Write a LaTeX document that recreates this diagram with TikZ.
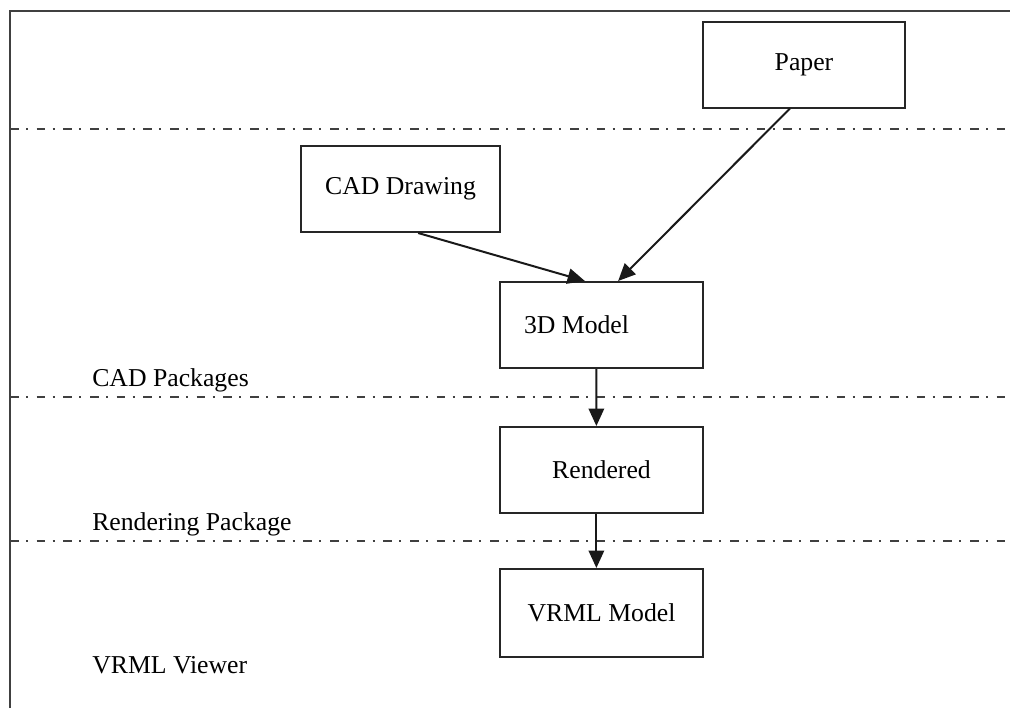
\documentclass[tikz,border=0pt]{standalone}
\usepackage{fontspec}
\setmainfont{Liberation Serif}
\usetikzlibrary{arrows.meta,calc}
\begin{document}
\begin{tikzpicture}[x=0.75pt,y=-0.75pt,
  box/.style={draw=black!85,line width=1.5pt,rectangle,inner sep=0pt,minimum width=152pt,minimum height=64.5pt,font=\fontsize{19.3}{22}\selectfont},
  lbl/.style={inner sep=0pt,anchor=base west,font=\fontsize{19.3}{22}\selectfont},
  flow/.style={line width=1.5pt,draw=black!90,-{Triangle[length=13pt,width=11.5pt]}},
  lane/.style={line width=1.7pt,draw=black!75,dash pattern=on 6.5pt off 5.5pt on 1.5pt off 6.5pt},
  frame/.style={line width=2pt,draw=black!75}]
\useasboundingbox (0,0) rectangle (1010,708);
% frame
\coordinate (fa) at (10,708);
\coordinate (fb) at (10,11);
\coordinate (fc) at (1012,11);
\draw[frame] (fa) -- (fb) -- (fc);
% swimlane separators
\draw[lane] (10,129) -- (1010,129);
\draw[lane] (10,397) -- (1010,397);
\draw[lane] (10,541) -- (1010,541);
% lane labels
\node[lbl] (l1) at (92,386) {CAD Packages};
\node[lbl] (l2) at (92,530) {Rendering Package};
\node[lbl] (l3) at (92,673) {VRML Viewer};
% boxes
\node[box,minimum width=151.5pt] (paper) at (804,64.5) {Paper};
\node[box,minimum width=149pt] (cad) at (400.5,189) {CAD Drawing};
\node[box,inner xsep=18pt] (model) at (601.5,325) {\makebox[116.25pt][l]{3D Model}};
\node[box] (rend) at (601.5,470) {Rendered};
\node[box,minimum height=66pt] (vrml) at (601.5,613) {VRML Model};
% connectors
\draw[flow] ($(cad.south west)!0.588!(cad.south east)$) -- ($(model.north west)!0.419!(model.north east)$);
\draw[flow] ($(paper.south west)!0.431!(paper.south east)$) -- ($(model.north west)!0.581!(model.north east)$);
\draw[flow] ($(model.south west)!0.475!(model.south east)$) -- ($(rend.north west)!0.475!(rend.north east)$);
\draw[flow] ($(rend.south west)!0.475!(rend.south east)$) -- ($(vrml.north west)!0.475!(vrml.north east)$);
\end{tikzpicture}
\end{document}
